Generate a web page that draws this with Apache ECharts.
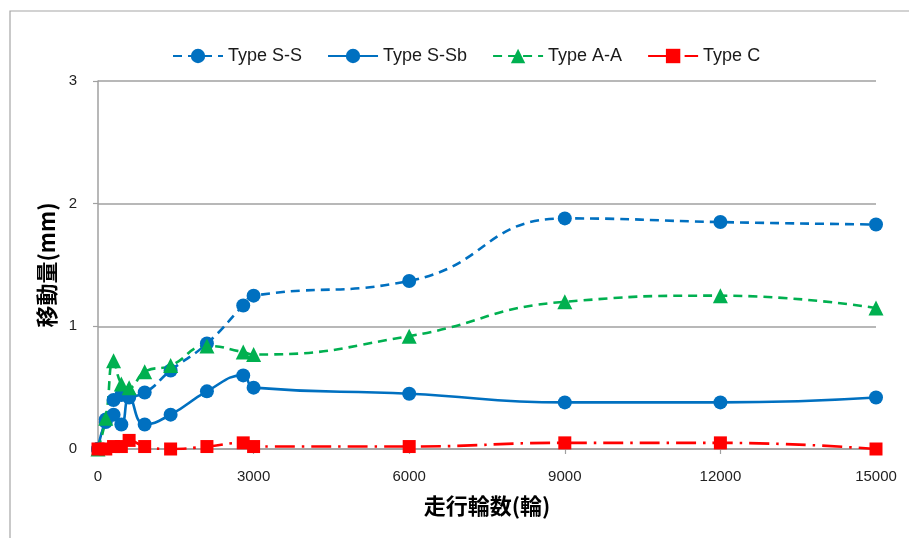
<!DOCTYPE html>
<html>
<head>
<meta charset="utf-8">
<script src="https://cdn.jsdelivr.net/npm/echarts@6/dist/echarts.min.js"></script>
<style>
  html, body { margin: 0; padding: 0; background: #fff; }
  #chart { width: 909px; height: 538px; }
</style>
</head>
<body>
<div id="chart"></div>
<script>
// Running wheel passes (x) and measured displacement in mm (y)
const wheelPasses = [0, 150, 300, 450, 600, 900, 1400, 2100, 2800, 3000, 6000, 9000, 12000, 15000];
const typeSS  = [0, 0.24, 0.40, 0.44, 0.43, 0.46, 0.64, 0.86, 1.17, 1.25, 1.37, 1.88, 1.85, 1.83];
const typeSSb = [0, 0.22, 0.28, 0.20, 0.42, 0.20, 0.28, 0.47, 0.60, 0.50, 0.45, 0.38, 0.38, 0.42];
const typeAA  = [0, 0.25, 0.72, 0.53, 0.50, 0.63, 0.68, 0.84, 0.79, 0.77, 0.92, 1.20, 1.25, 1.15];
const typeC   = [0, 0.00, 0.02, 0.02, 0.07, 0.02, 0.00, 0.02, 0.05, 0.02, 0.02, 0.05, 0.05, 0.00];

const seriesNames = ['Type S-S', 'Type S-Sb', 'Type A-A', 'Type C'];
const xTicks = [0, 3000, 6000, 9000, 12000, 15000];
const yTicks = [0, 1, 2, 3];

const pairs = ys => wheelPasses.map((x, i) => [x, ys[i]]);

const BLUE = '#0070C0', GREEN = '#00B050', RED = '#FF0000';
const axisGrey = '#a0a0a0';
const latin = '"Liberation Sans", Arial, sans-serif';
const cjk = '"Noto Sans CJK JP", "Noto Sans CJK SC", sans-serif';

const chart = echarts.init(document.getElementById('chart'), null, { renderer: 'canvas' });

function lineSeries(name, data, color, dash, symbol, size) {
  return {
    name: name,
    type: 'line',
    data: pairs(data),
    smooth: 0.5,
    symbol: symbol,
    symbolSize: size,
    showAllSymbol: true,
    lineStyle: { color: color, width: 2.6, type: dash, cap: 'butt' },
    itemStyle: { color: color, borderWidth: 0 },
    emphasis: { disabled: true },
    animation: false
  };
}

chart.setOption({
  backgroundColor: '#ffffff',
  animation: false,
  graphic: [{
    type: 'rect',
    shape: { x: 10, y: 11, width: 1000, height: 600 },
    style: { fill: 'none', stroke: '#a6a6a6', lineWidth: 1.2 },
    silent: true,
    z: -1
  }],
  legend: {
    data: seriesNames,
    left: 167,
    top: 42,
    itemWidth: 50,
    itemHeight: 18,
    itemGap: 25,
    textStyle: { fontFamily: latin, fontSize: 18, color: '#1a1a1a' }
  },
  grid: {
    left: 98, right: 33, top: 81, bottom: 89,
    outerBoundsMode: 'none',
    containLabel: false
  },
  xAxis: {
    type: 'value',
    min: xTicks[0],
    max: xTicks[xTicks.length - 1],
    interval: xTicks[1] - xTicks[0],
    name: '走行輪数(輪)',
    nameLocation: 'middle',
    nameGap: 46,
    nameTextStyle: { fontFamily: cjk, fontSize: 22, fontWeight: 'bold', color: '#000' },
    axisLine: { show: true, lineStyle: { color: axisGrey, width: 1.5 } },
    axisTick: { show: true, inside: false, length: 5, lineStyle: { color: axisGrey, width: 1.2 } },
    axisLabel: { margin: 20, fontFamily: latin, fontSize: 15, color: '#222', formatter: v => String(v) },
    splitLine: { show: false }
  },
  yAxis: {
    type: 'value',
    min: yTicks[0],
    max: yTicks[yTicks.length - 1],
    interval: yTicks[1] - yTicks[0],
    name: '移動量(mm)',
    nameLocation: 'middle',
    nameGap: 40,
    nameTextStyle: { fontFamily: cjk, fontSize: 22, fontWeight: 'bold', color: '#000' },
    axisLine: { show: true, lineStyle: { color: axisGrey, width: 1.5 } },
    axisTick: { show: true, inside: false, length: 5, lineStyle: { color: axisGrey, width: 1.2 } },
    axisLabel: { margin: 21, fontFamily: latin, fontSize: 15, color: '#222', formatter: v => String(v) },
    splitLine: { show: true, lineStyle: { color: axisGrey, width: 1.5 } }
  },
  series: [
    lineSeries(seriesNames[0], typeSS, BLUE, [9, 6], 'circle', 14),
    lineSeries(seriesNames[1], typeSSb, BLUE, 'solid', 'circle', 14),
    lineSeries(seriesNames[2], typeAA, GREEN, [9, 6], 'triangle', 15),
    lineSeries(seriesNames[3], typeC, RED, [20, 7, 2.5, 7], 'rect', 13)
  ]
});
</script>
</body>
</html>
